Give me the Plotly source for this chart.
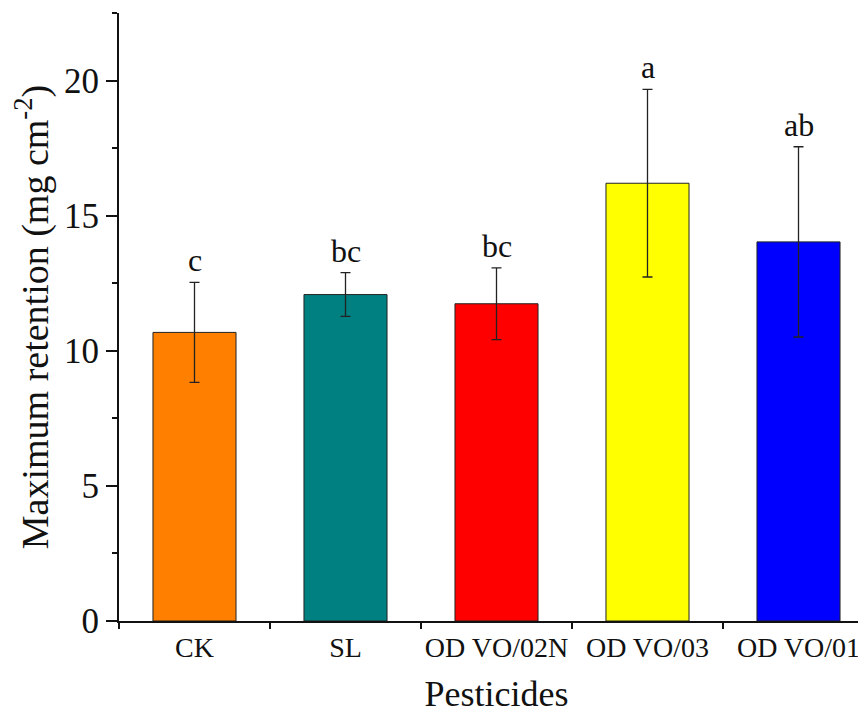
import plotly.graph_objects as go

categories = ["CK", "SL", "OD VO/02N", "OD VO/03", "OD VO/01"]
means = [10.68, 12.08, 11.74, 16.2, 14.03]
errors = [1.85, 0.81, 1.33, 3.47, 3.52]
letters = ["c", "bc", "bc", "a", "ab"]
colors = ["#FF8000", "#008080", "#FF0000", "#FFFF00", "#0000FF"]

FONT = "Liberation Serif, Times New Roman, serif"

fig = go.Figure()
fig.add_trace(go.Bar(
    x=categories, y=means,
    marker=dict(color=colors, line=dict(color="#222222", width=1)),
    width=0.55,
    error_y=dict(type="data", array=errors, visible=True,
                 color="#222222", thickness=1.3, width=5),
    showlegend=False,
))

for c, m, e, t in zip(categories, means, errors, letters):
    fig.add_annotation(x=c, y=m + e, text=t, showarrow=False,
                       yanchor="bottom", yshift=2,
                       font=dict(family=FONT, size=32, color="#111111"))

fig.update_layout(
    width=866, height=713,
    margin=dict(l=111, r=0, t=5, b=100),
    plot_bgcolor="white", paper_bgcolor="white",
    font=dict(family=FONT, color="#111111"),
)
fig.update_xaxes(
    range=[-0.5, 4.5], tickson="boundaries", automargin=False, tickangle=0,
    showline=True, linecolor="#111111", linewidth=2,
    ticks="outside", ticklen=6, tickwidth=2, tickcolor="#111111",
    tickfont=dict(size=28, family=FONT),
    title=dict(text="Pesticides", font=dict(size=36, family=FONT), standoff=19),
    showgrid=False, zeroline=False,
)
fig.update_yaxes(
    range=[0, 22.5], tickvals=[0, 5, 10, 15, 20], automargin=False,
    showline=True, linecolor="#111111", linewidth=2,
    ticks="outside", ticklen=11, tickwidth=2, tickcolor="#111111",
    minor=dict(dtick=2.5, tick0=0, ticks="outside", ticklen=5,
               tickwidth=2, tickcolor="#111111", showgrid=False),
    tickfont=dict(size=35, family=FONT),
    title=dict(text="Maximum retention (mg cm<sup>-2</sup>)",
               font=dict(size=38, family=FONT), standoff=6),
    showgrid=False, zeroline=False,
)

fig.write_html("out.html")
